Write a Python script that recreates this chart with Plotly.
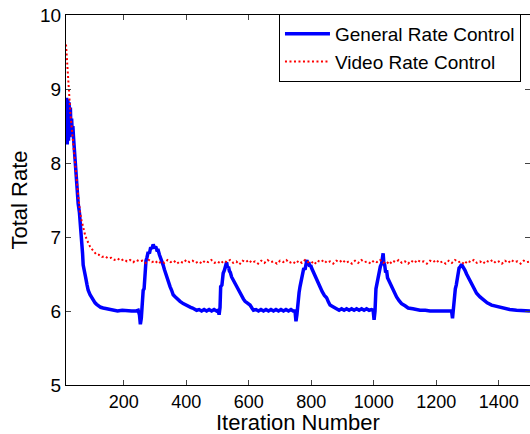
import plotly.graph_objects as go

# ---- data ----
general_iter = [15, 17, 19, 21, 23, 25, 27, 29, 31, 33, 35, 37, 39, 41, 44, 47, 50, 54, 58, 62,
                65, 68, 70, 74, 78, 82, 86, 92, 97, 103, 108, 113, 118, 126, 134, 145, 155, 166, 180, 195,
                210, 225, 240, 246, 250, 253, 256, 259, 262, 265, 268, 271, 274, 278, 282, 286, 290, 294, 298, 302,
                306, 310, 314, 318, 322, 326, 330, 334, 337, 342, 348, 353, 358, 365, 372, 380, 390, 398, 406, 414,
                420, 426, 433, 441, 449, 457, 465, 473, 481, 489, 497, 502, 505, 508, 510, 514, 518, 522, 526, 529,
                532, 535, 538, 541, 545, 550, 556, 561, 567, 572, 577, 583, 588, 596, 604, 610, 615, 623, 631, 639,
                647, 655, 663, 671, 679, 687, 695, 703, 711, 719, 727, 735, 742, 748, 751, 754, 757, 761, 764, 768,
                772, 776, 780, 783, 786, 789, 792, 795, 798, 801, 805, 808, 812, 817, 822, 828, 835, 842, 849, 855,
                860, 868, 875, 881, 889, 897, 905, 913, 921, 929, 937, 945, 953, 961, 969, 977, 985, 993, 998, 1001,
                1004, 1007, 1010, 1014, 1017, 1021, 1025, 1028, 1030, 1032, 1035, 1038, 1041, 1044, 1047, 1052, 1057, 1065, 1073, 1081,
                1089, 1100, 1110, 1125, 1148, 1165, 1180, 1200, 1220, 1240, 1249, 1252, 1255, 1258, 1261, 1264, 1267, 1270, 1273, 1277,
                1281, 1285, 1289, 1292, 1297, 1302, 1308, 1313, 1320, 1329, 1340, 1350, 1363, 1377, 1395, 1414, 1435, 1457, 1480, 1500]
general_rate = [8.25, 8.88, 8.25, 8.86, 8.30, 8.82, 8.35, 8.75, 8.40, 8.60, 8.40, 8.50, 8.35, 8.22, 7.98, 7.78, 7.60, 7.45, 7.33, 7.15,
                6.97, 6.78, 6.62, 6.55, 6.45, 6.36, 6.28, 6.22, 6.18, 6.14, 6.11, 6.09, 6.07, 6.05, 6.04, 6.03, 6.02, 6.01, 6.00, 6.01,
                6.00, 6.00, 6.00, 6.01, 5.95, 5.82, 5.90, 6.10, 6.28, 6.30, 6.60, 6.68, 6.72, 6.80, 6.78, 6.86, 6.84, 6.90, 6.85, 6.87,
                6.82, 6.82, 6.76, 6.72, 6.68, 6.62, 6.56, 6.50, 6.46, 6.40, 6.33, 6.28, 6.22, 6.19, 6.16, 6.13, 6.10, 6.08, 6.06, 6.05,
                6.04, 6.02, 6.01, 6.02, 6.00, 6.02, 6.00, 6.02, 6.00, 6.02, 6.00, 6.01, 5.95, 6.05, 6.33, 6.35, 6.51, 6.55, 6.62, 6.66,
                6.58, 6.60, 6.54, 6.52, 6.46, 6.42, 6.38, 6.33, 6.28, 6.24, 6.19, 6.16, 6.13, 6.10, 6.08, 6.04, 6.01, 6.02, 6.00, 6.02,
                6.00, 6.02, 6.00, 6.02, 6.00, 6.02, 6.00, 6.02, 6.00, 6.02, 6.00, 6.02, 6.00, 6.00, 5.86, 5.95, 6.15, 6.25, 6.33, 6.42,
                6.51, 6.58, 6.56, 6.64, 6.69, 6.62, 6.66, 6.60, 6.62, 6.58, 6.54, 6.50, 6.46, 6.42, 6.37, 6.32, 6.26, 6.21, 6.18, 6.12,
                6.08, 6.06, 6.04, 6.03, 6.01, 6.03, 6.01, 6.03, 6.01, 6.03, 6.01, 6.03, 6.01, 6.03, 6.01, 6.03, 6.01, 6.02, 6.01, 5.88,
                6.00, 6.30, 6.38, 6.45, 6.55, 6.60, 6.64, 6.70, 6.78, 6.66, 6.62, 6.52, 6.55, 6.45, 6.42, 6.37, 6.33, 6.26, 6.19, 6.14,
                6.10, 6.07, 6.04, 6.03, 6.01, 6.01, 6.00, 6.00, 6.00, 6.00, 6.00, 5.90, 6.05, 6.22, 6.30, 6.35, 6.46, 6.52, 6.58, 6.60,
                6.63, 6.60, 6.58, 6.55, 6.50, 6.46, 6.42, 6.38, 6.31, 6.24, 6.19, 6.15, 6.11, 6.08, 6.06, 6.04, 6.02, 6.01, 6.00, 6.00]

video_iter = [15, 17, 19, 21, 23, 25, 27, 29, 31, 33, 35, 38, 41, 44, 47, 50, 53, 56, 60, 65,
              70, 76, 81, 86, 92, 97, 103, 108, 113,
              120, 130, 140, 150, 160, 170, 180, 190, 200, 210, 220, 230, 240, 250, 260, 270, 280, 290, 300, 310,
              320, 330, 340, 350, 360, 370, 380, 390, 400, 410, 420, 430, 440, 450, 460, 470, 480, 490, 500, 510,
              520, 530, 540, 550, 560, 570, 580, 590, 600, 610, 620, 630, 640, 650, 660, 670, 680, 690, 700, 710,
              720, 730, 740, 750, 760, 770, 780, 790, 800, 810, 820, 830, 840, 850, 860, 870, 880, 890, 900, 910,
              920, 930, 940, 950, 960, 970, 980, 990, 1000, 1010, 1020, 1030, 1040, 1050, 1060, 1070, 1080, 1090, 1100, 1110,
              1120, 1130, 1140, 1150, 1160, 1170, 1180, 1190, 1200, 1210, 1220, 1230, 1240, 1250, 1260, 1270, 1280, 1290, 1300, 1310,
              1320, 1330, 1340, 1350, 1360, 1370, 1380, 1390, 1400, 1410, 1420, 1430, 1440, 1450, 1460, 1470, 1480, 1490, 1500]
video_rate = [9.60, 9.45, 9.30, 9.12, 9.00, 8.88, 8.78, 8.68, 8.58, 8.48, 8.38, 8.25, 8.12, 7.98, 7.85, 7.74, 7.60, 7.47, 7.33, 7.22,
              7.12, 7.03, 6.97, 6.92, 6.87, 6.84, 6.81, 6.78, 6.76,
              6.76, 6.73, 6.74, 6.71, 6.72, 6.69, 6.71, 6.68, 6.70, 6.67, 6.69, 6.66, 6.69, 6.67, 6.68, 6.65, 6.69, 6.66, 6.68, 6.64,
              6.67, 6.65, 6.69, 6.66, 6.68, 6.64, 6.67, 6.65, 6.69, 6.66, 6.68, 6.65, 6.67, 6.64, 6.68, 6.66, 6.69, 6.65, 6.67, 6.64,
              6.68, 6.66, 6.69, 6.65, 6.67, 6.63, 6.68, 6.66, 6.69, 6.65, 6.67, 6.64, 6.68, 6.65, 6.69, 6.66, 6.67, 6.64, 6.68, 6.66,
              6.69, 6.65, 6.67, 6.64, 6.68, 6.65, 6.69, 6.66, 6.67, 6.63, 6.68, 6.66, 6.69, 6.65, 6.67, 6.64, 6.68, 6.66, 6.69, 6.65,
              6.67, 6.64, 6.68, 6.65, 6.69, 6.66, 6.67, 6.64, 6.68, 6.66, 6.69, 6.65, 6.67, 6.63, 6.68, 6.66, 6.69, 6.65, 6.67, 6.64,
              6.68, 6.65, 6.69, 6.66, 6.67, 6.64, 6.68, 6.66, 6.69, 6.65, 6.67, 6.64, 6.68, 6.65, 6.69, 6.66, 6.67, 6.63, 6.68, 6.66,
              6.69, 6.65, 6.67, 6.64, 6.68, 6.66, 6.69, 6.65, 6.67, 6.64, 6.68, 6.65, 6.69, 6.66, 6.67, 6.64, 6.68, 6.66, 6.67]

x_ticks = [200, 400, 600, 800, 1000, 1200, 1400]
y_ticks = [5, 6, 7, 8, 9, 10]
x_title = "Iteration Number"
y_title = "Total Rate"

FONT = "Liberation Sans, Arial, Helvetica, sans-serif"

fig = go.Figure()
fig.add_trace(go.Scatter(x=general_iter, y=general_rate, mode="lines", name="General Rate Control",
                         line=dict(color="#0000ff", width=3.5)))
fig.add_trace(go.Scatter(x=video_iter, y=video_rate, mode="lines", name="Video Rate Control",
                         line=dict(color="#ff0000", width=2, dash="2px,2.5px")))

fig.update_layout(
    width=530, height=434,
    margin=dict(l=66, r=0, t=15, b=49, autoexpand=False),
    paper_bgcolor="white", plot_bgcolor="white",
    font=dict(family=FONT, size=19, color="black"),
    legend=dict(x=0.459, y=1.003, xanchor="left", yanchor="top",
                bgcolor="white", bordercolor="black", borderwidth=1, itemwidth=45,
                font=dict(family=FONT, size=19), tracegroupgap=0),
    xaxis=dict(range=[15, 1500], tickvals=x_ticks, ticks="inside", ticklen=5,
               showline=True, linecolor="black", linewidth=1, mirror="ticks",
               showgrid=False, zeroline=False, tickfont=dict(size=18), automargin=False),
    yaxis=dict(range=[5, 10], tickvals=y_ticks, ticks="inside", ticklen=5,
               showline=True, linecolor="black", linewidth=1, mirror="ticks",
               showgrid=False, zeroline=False, tickfont=dict(size=19), automargin=False,
               title=dict(text=y_title, font=dict(size=22), standoff=6)),
    annotations=[dict(text=x_title, xref="paper", yref="paper", x=0.5, y=-0.102,
                      xanchor="center", yanchor="middle", showarrow=False,
                      font=dict(family=FONT, size=22, color="black"))],
)

fig.write_html("out.html", config={"displayModeBar": False},
               post_script="document.body.style.margin='0';document.body.style.overflow='hidden';")
